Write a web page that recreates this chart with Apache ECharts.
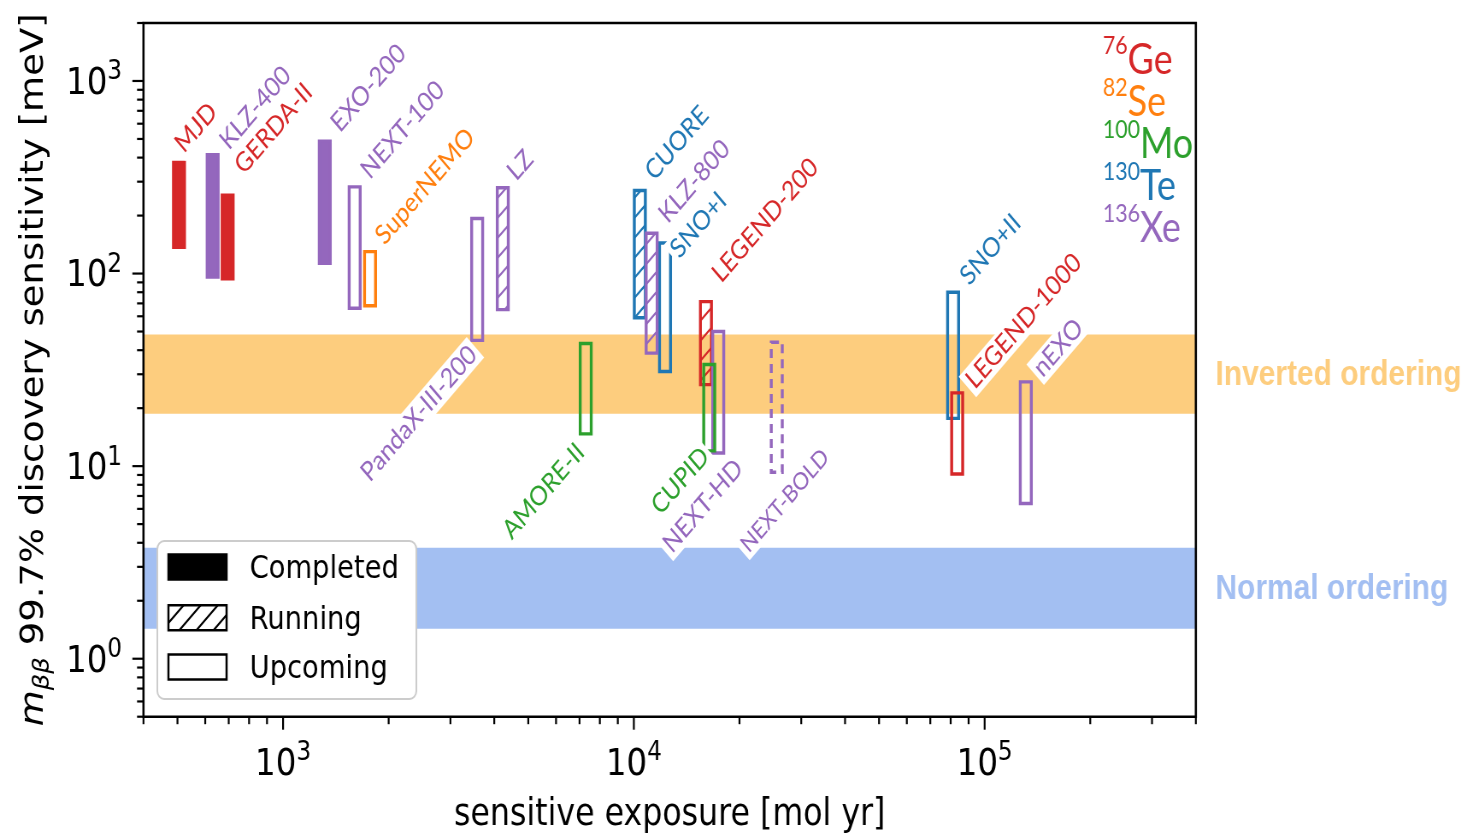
<!DOCTYPE html>
<html>
<head>
<meta charset="utf-8">
<title>Discovery sensitivity vs sensitive exposure</title>
<script src="https://cdn.jsdelivr.net/npm/echarts@6.0.0/dist/echarts.min.js"></script>
<style>
  html, body { margin: 0; padding: 0; background: #fff; overflow: hidden; }
  /* the figure is laid out on a wider canvas and compressed horizontally */
  #chart { width: 1723px; height: 833px; transform: scaleX(0.85490); transform-origin: 0 0; }
</style>
</head>
<body>
<div id="chart"></div>
<script>
// ---- data ---------------------------------------------------------------
const experiments = ['MJD', 'KLZ-400', 'GERDA-II', 'EXO-200', 'NEXT-100', 'SuperNEMO',
  'PandaX-III-200', 'LZ', 'CUORE', 'SNO+I', 'KLZ-800', 'AMORE-II', 'LEGEND-200',
  'NEXT-HD', 'CUPID', 'NEXT-BOLD', 'SNO+II', 'LEGEND-1000', 'nEXO'];
const isotope = ['Ge', 'Xe', 'Ge', 'Xe', 'Xe', 'Se',
  'Xe', 'Xe', 'Te', 'Te', 'Xe', 'Mo', 'Ge',
  'Xe', 'Mo', 'Xe', 'Te', 'Ge', 'Xe'];
const status = ['completed', 'completed', 'completed', 'completed', 'upcoming', 'upcoming',
  'upcoming', 'running', 'running', 'upcoming', 'running', 'upcoming', 'running',
  'upcoming', 'upcoming', 'concept', 'upcoming', 'upcoming', 'upcoming'];
// sensitive exposure [mol yr]
const exposure = [505, 630, 695, 1315, 1600, 1770,
  3575, 4230, 10400, 12270, 11240, 7290, 16050,
  17400, 16400, 25550, 81300, 83500, 131000];
// 99.7% discovery sensitivity range [meV]
const sensLow = [137, 96, 94, 113, 66, 68,
  45, 65, 59, 31, 38.6, 14.7, 26.5,
  11.7, 12, 9.3, 17.7, 9.1, 6.4];
const sensHigh = [377, 414, 255, 487, 282, 130,
  193, 279, 270, 144, 162, 43.3, 71.5,
  50, 33.7, 44, 80, 24, 27.4];

// mass-ordering bands [meV]
const bandNames = ['Inverted ordering', 'Normal ordering'];
const bandLow = [18.7, 1.43];
const bandHigh = [48.2, 3.77];

// isotope key
const isoMass = ['76', '82', '100', '130', '136'];
const isoSymbol = ['Ge', 'Se', 'Mo', 'Te', 'Xe'];

// status key
const statusNames = ['Completed', 'Running', 'Upcoming'];

// axis ranges and tick values
const xMin = 400, xMax = 400000;
const yMin = 0.5, yMax = 2000;
const xMajorTicks = [1e3, 1e4, 1e5];
const yMajorTicks = [1, 10, 100, 1000];

// ---- style --------------------------------------------------------------
const isoColor = { Ge: '#d62728', Se: '#ff7f0e', Mo: '#2ca02c', Te: '#1f77b4', Xe: '#9467bd' };
const bandColors = ['#fdcd7e', '#a3bff2'];
const BAR_HALF = Math.pow(10, 0.0157);   // half bar width, as a factor on the log x axis
const HATCH_STEP = 20;
const LABEL_FONT = 'Lato';
const AXIS_FONT = 'DejaVu Sans';

// label placement: [dx, dy, below, fontSize] in px from the bar end the label belongs to
const labelPlacement = [
  [-3, -12, 0, 27], [10, -7, 0, 27], [10, -23, 0, 27], [9, -11, 0, 27], [9, -10, 0, 27], [8, -9, 0, 27],
  [-2, 7, 1, 27], [7, -9, 0, 27], [8, -12, 0, 27], [8, 13, 0, 27], [10, -12, 0, 27], [-3, 11, 1, 27], [9, -21, 0, 27],
  [27, 8, 1, 27], [-2, -2, 1, 27], [60, -22, 1, 24], [10, -9, 0, 27], [12, -6, 0, 27], [11, -7, 0, 27]
];

function minorTicks(lo, hi) {
  const out = [];
  for (let k = Math.floor(Math.log10(lo)); k <= Math.ceil(Math.log10(hi)); k++) {
    for (let m = 2; m <= 9; m++) {
      const v = m * Math.pow(10, k);
      if (v >= lo * 0.999 && v <= hi * 1.001) out.push(v);
    }
  }
  return out;
}
const xMinorTicks = minorTicks(xMin, xMax);
const yMinorTicks = minorTicks(yMin, yMax);

// diagonal '/' hatch segments clipped to a rectangle
function hatchLines(x0, y0, x1, y1, color, lw) {
  const out = [];
  let c = Math.ceil((x0 + y0) / HATCH_STEP) * HATCH_STEP;
  for (; c < x1 + y1; c += HATCH_STEP) {
    const xa = Math.max(x0, c - y1), xb = Math.min(x1, c - y0);
    if (xb > xa) {
      out.push({ type: 'line', shape: { x1: xa, y1: c - xa, x2: xb, y2: c - xb },
        style: { stroke: color, lineWidth: lw } });
    }
  }
  return out;
}

function powLabel(v) {
  const e = Math.round(Math.log10(v));
  if (Math.abs(v - Math.pow(10, e)) / v > 1e-6) return '';
  return '{b|10}{s|' + e + '}';
}
const powRich = {
  b: { fontFamily: AXIS_FONT, fontSize: 38, lineHeight: 44, verticalAlign: 'bottom', color: '#000' },
  s: { fontFamily: AXIS_FONT, fontSize: 27, lineHeight: 20, verticalAlign: 'top', color: '#000' }
};

// ---- renderers ----------------------------------------------------------
function renderBand(params, api) {
  const cs = params.coordSys;
  const i = params.dataIndex;
  const yTop = api.coord([xMin, api.value(1)])[1];
  const yBot = api.coord([xMin, api.value(0)])[1];
  return {
    type: 'group',
    children: [
      { type: 'rect', shape: { x: cs.x, y: yTop, width: cs.width, height: yBot - yTop },
        style: { fill: bandColors[i] } },
      { type: 'text', x: cs.x + cs.width + 23, y: (yTop + yBot) / 2 + 1,
        style: { text: bandNames[i], fill: bandColors[i], fontFamily: 'Liberation Sans',
          fontWeight: 'bold', fontSize: 35, align: 'left', verticalAlign: 'middle' } }
    ]
  };
}

function renderBar(params, api) {
  const i = params.dataIndex;
  const x = api.value(0);
  const a = api.coord([x / BAR_HALF, api.value(2)]);
  const b = api.coord([x * BAR_HALF, api.value(1)]);
  const color = isoColor[isotope[i]];
  const st = status[i];
  const children = [];
  if (st === 'running') children.push(...hatchLines(a[0], a[1], b[0], b[1], color, 2.2));
  children.push({
    type: 'rect',
    shape: { x: a[0], y: a[1], width: b[0] - a[0], height: b[1] - a[1] },
    style: { fill: st === 'completed' ? color : 'none', stroke: color, lineWidth: 3.4,
      lineDash: st === 'concept' ? [9, 6] : null }
  });
  return { type: 'group', children };
}

function renderLabel(params, api) {
  const i = params.dataIndex;
  const pl = labelPlacement[i];
  const below = pl[2] === 1;
  const p = api.coord([api.value(0), below ? api.value(1) : api.value(2)]);
  return {
    type: 'text', x: p[0] + pl[0], y: p[1] + pl[1], rotation: Math.PI / 4,
    style: { text: experiments[i], fill: isoColor[isotope[i]], fontFamily: LABEL_FONT,
      fontSize: pl[3], align: below ? 'right' : 'left', verticalAlign: 'middle',
      backgroundColor: '#fff', padding: [1, 4] }
  };
}

function renderFrame(params, api) {
  const cs = params.coordSys;
  const ch = [];
  const tick = (x1, y1, x2, y2) => ch.push({ type: 'line', shape: { x1, y1, x2, y2 },
    style: { stroke: '#000', lineWidth: 2.2 } });
  const yb = cs.y + cs.height;
  xMajorTicks.forEach(v => { const px = api.coord([v, yMin])[0]; tick(px, yb, px, yb + 13); });
  xMinorTicks.forEach(v => { const px = api.coord([v, yMin])[0]; tick(px, yb, px, yb + 7.5); });
  yMajorTicks.forEach(v => { const py = api.coord([xMin, v])[1]; tick(cs.x, py, cs.x - 13, py); });
  yMinorTicks.forEach(v => { const py = api.coord([xMin, v])[1]; tick(cs.x, py, cs.x - 7.5, py); });
  ch.push({ type: 'rect', shape: { x: cs.x, y: cs.y, width: cs.width, height: cs.height },
    style: { fill: 'none', stroke: '#000', lineWidth: 2.6 } });
  return { type: 'group', children: ch };
}

// ---- key graphics (status legend and isotope list) ----------------------
function buildGraphics() {
  const g = [];
  g.push({ type: 'rect', shape: { x: 184, y: 541, width: 303, height: 158, r: 8 },
    style: { fill: '#fff', stroke: '#cccccc', lineWidth: 2 }, z: 100 });
  const rows = [554.6, 605.3, 654.6];
  statusNames.forEach((name, k) => {
    const x0 = 197, y0 = rows[k], w = 68, h = 25;
    if (k === 1) {
      hatchLines(x0, y0, x0 + w, y0 + h, '#000', 2.2).forEach(l => { l.z = 101; g.push(l); });
    }
    g.push({ type: 'rect', shape: { x: x0, y: y0, width: w, height: h },
      style: { fill: k === 0 ? '#000' : 'none', stroke: '#000', lineWidth: 2.5 }, z: 101 });
    g.push({ type: 'text', x: 292, y: y0 + h / 2 + 3,
      style: { text: name, fill: '#000', fontFamily: AXIS_FONT, fontSize: 32,
        align: 'left', verticalAlign: 'middle' }, z: 101 });
  });
  isoSymbol.forEach((sym, k) => {
    const c = isoColor[sym];
    g.push({ type: 'text', x: 1290, y: 33 + 42.1 * k,
      style: { text: '{s|' + isoMass[k] + '}{m|' + sym + '}', align: 'left', verticalAlign: 'top',
        fill: c,
        rich: {
          s: { fontFamily: LABEL_FONT, fontSize: 25, lineHeight: 24, verticalAlign: 'top', fill: c },
          m: { fontFamily: LABEL_FONT, fontSize: 42, lineHeight: 48, verticalAlign: 'bottom', fill: c }
        } }, z: 100 });
  });
  return g;
}

// ---- chart --------------------------------------------------------------
const chart = echarts.init(document.getElementById('chart'), null, { renderer: 'canvas' });
const barData = exposure.map((x, i) => [x, sensLow[i], sensHigh[i]]);

chart.setOption({
  animation: false,
  backgroundColor: '#fff',
  grid: { left: 167.8, right: 324.2, top: 23, bottom: 116.3, containLabel: false,
    outerBoundsMode: 'none' },
  xAxis: {
    type: 'log', logBase: 10, min: xMin, max: xMax,
    name: 'sensitive exposure [mol yr]', nameLocation: 'middle', nameGap: 80,
    nameTextStyle: { fontFamily: AXIS_FONT, fontSize: 37, color: '#000' },
    axisLine: { show: false }, axisTick: { show: false }, splitLine: { show: false },
    axisLabel: { formatter: powLabel, rich: powRich, margin: 23,
      showMinLabel: false, showMaxLabel: false }
  },
  yAxis: {
    type: 'log', logBase: 10, min: yMin, max: yMax,
    name: '{i|m}{sub|ββ}{t| 99.7% discovery sensitivity [meV]}',
    nameLocation: 'middle', nameGap: 105,
    nameTextStyle: {
      rich: {
        i: { fontFamily: AXIS_FONT, fontStyle: 'italic', fontSize: 37, lineHeight: 44, verticalAlign: 'middle', color: '#000' },
        sub: { fontFamily: AXIS_FONT, fontStyle: 'italic', fontSize: 26, lineHeight: 26, verticalAlign: 'bottom', color: '#000' },
        t: { fontFamily: AXIS_FONT, fontSize: 37, lineHeight: 44, verticalAlign: 'middle', color: '#000' }
      }
    },
    axisLine: { show: false }, axisTick: { show: false }, splitLine: { show: false },
    axisLabel: { formatter: powLabel, rich: powRich, margin: 25,
      showMinLabel: false, showMaxLabel: false }
  },
  series: [
    { type: 'custom', name: 'bands', renderItem: renderBand, silent: true, z: 1,
      dimensions: ['lo', 'hi'], encode: { y: [0, 1] },
      data: bandLow.map((lo, i) => [lo, bandHigh[i]]) },
    { type: 'custom', name: 'experiments', renderItem: renderBar, silent: true, z: 2,
      encode: { x: 0, y: [1, 2] }, data: barData },
    { type: 'custom', name: 'labels', renderItem: renderLabel, silent: true, z: 3,
      encode: { x: 0, y: [1, 2] }, data: barData },
    { type: 'custom', name: 'frame', renderItem: renderFrame, silent: true, z: 4,
      encode: { x: 0, y: 1 }, data: [[xMin, yMin]] }
  ],
  graphic: buildGraphics()
});
</script>
</body>
</html>
